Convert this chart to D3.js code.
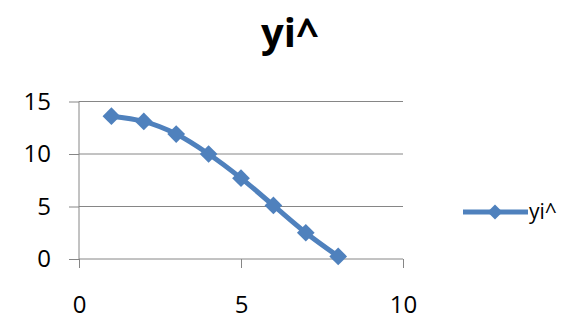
<!DOCTYPE html>
<html>
<head>
<meta charset="utf-8">
<script src="https://cdn.jsdelivr.net/npm/d3@7"></script>
<style>
  body { margin: 0; background: #fff; }
  svg { font-family: "Open Sans", "Liberation Sans", sans-serif; }
</style>
</head>
<body>
<svg width="573" height="320"></svg>
<script>
// data
const xValues = [1, 2, 3, 4, 5, 6, 7, 8];
const yValues = [13.6, 13.1, 11.9, 10.0, 7.7, 5.1, 2.5, 0.25];
const xTicks = [0, 5, 10];
const yTicks = [0, 5, 10, 15];
const seriesName = "yi^";

let width = 573;
let height = 320;
let color = "#4f81bd";
let gridColor = "#868686";

const svg = d3.select('svg').attr('width', width).attr('height', height);

const xScale = d3.scaleLinear().domain([0, 10]).range([79, 403]);
const yScale = d3.scaleLinear().domain([0, 15]).range([259, 101.5]);

// title
svg.append('text').attr('x', 290).attr('y', 47)
  .attr('text-anchor', 'middle')
  .style('font-size', '40px').style('font-weight', 'bold')
  .text(seriesName);

// horizontal gridlines
svg.append('g').selectAll('line').data(yTicks.slice(1)).enter().append('line')
  .attr('x1', xScale(0)).attr('x2', xScale(10))
  .attr('y1', d => yScale(d)).attr('y2', d => yScale(d))
  .attr('stroke', gridColor).attr('stroke-width', 1);

// axes
const yAxis = d3.axisLeft(yScale).tickValues(yTicks).tickSize(10).tickPadding(18);
const gy = svg.append('g').attr('transform', 'translate(' + xScale(0) + ',0)').call(yAxis);
const xAxis = d3.axisBottom(xScale).tickValues(xTicks).tickSize(9).tickPadding(28);
const gx = svg.append('g').attr('transform', 'translate(0,' + yScale(0) + ')').call(xAxis);

[gx, gy].forEach(g => {
  g.select('.domain').remove();
  g.selectAll('.tick line').attr('stroke', gridColor);
  g.selectAll('.tick text').style('font-size', '24px').attr('fill', '#000')
    .style('font-family', '"Open Sans", "Liberation Sans", sans-serif');
});
svg.append('line').attr('x1', xScale(0)).attr('x2', xScale(10))
  .attr('y1', yScale(0)).attr('y2', yScale(0)).attr('stroke', gridColor);
svg.append('line').attr('x1', xScale(0)).attr('x2', xScale(0))
  .attr('y1', yScale(0)).attr('y2', yScale(15)).attr('stroke', gridColor);

// series
const points = xValues.map((x, i) => [x, yValues[i]]);
const line = d3.line().x(d => xScale(d[0])).y(d => yScale(d[1])).curve(d3.curveCatmullRom);
svg.append('path').datum(points).attr('d', line)
  .attr('fill', 'none').attr('stroke', color).attr('stroke-width', 5)
  .attr('stroke-linejoin', 'round');

const diamond = d3.symbol().type(d3.symbolDiamond2).size(200);
svg.append('g').selectAll('path').data(points).enter().append('path')
  .attr('d', diamond)
  .attr('transform', d => 'translate(' + xScale(d[0]) + ',' + yScale(d[1]) + ')')
  .attr('fill', color);

// legend
const legend = svg.append('g').attr('transform', 'translate(463,212)');
legend.append('line').attr('x1', 0).attr('x2', 65).attr('y1', 0).attr('y2', 0)
  .attr('stroke', color).attr('stroke-width', 5);
legend.append('path').attr('d', d3.symbol().type(d3.symbolDiamond2).size(145))
  .attr('transform', 'translate(32,0)').attr('fill', color);
legend.append('text').attr('x', 66).attr('y', 7).style('font-size', '21px').text(seriesName);
</script>
</body>
</html>
